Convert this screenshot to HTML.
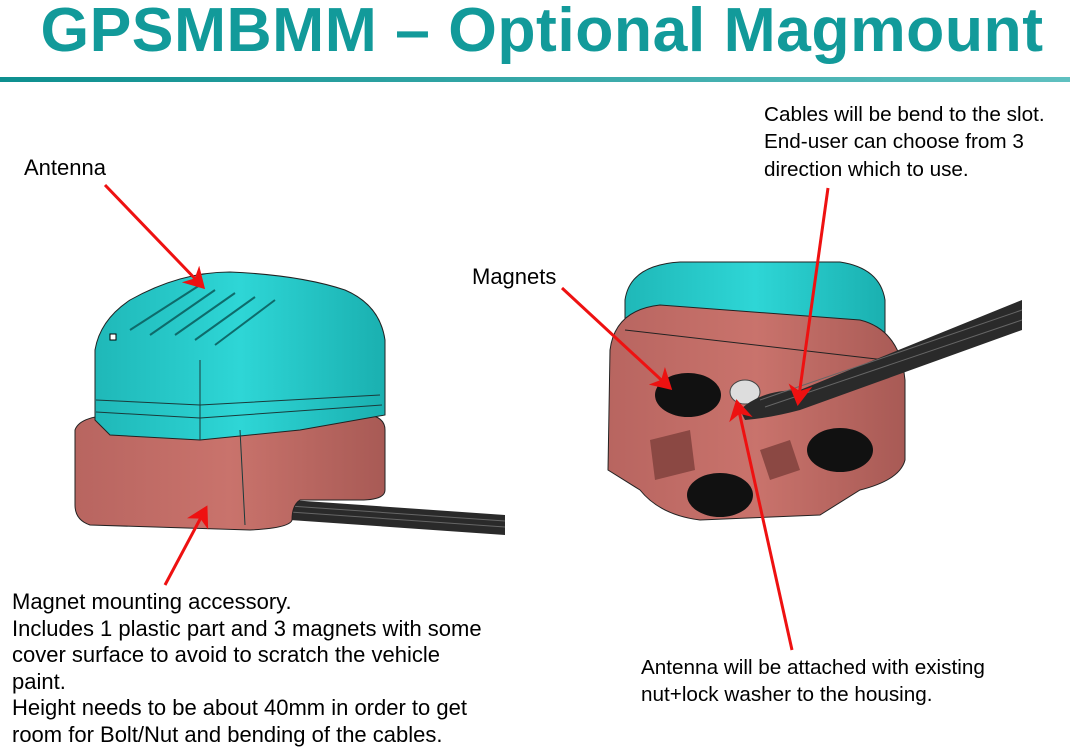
<!DOCTYPE html>
<html><head><meta charset="utf-8"><style>
body{margin:0;background:#fff;}
.wrap{position:relative;width:1070px;height:756px;overflow:hidden;font-family:"Liberation Sans",Arial,sans-serif;}
.t{position:absolute;font-size:22px;color:#000;line-height:26.6px;white-space:nowrap;}
.r{font-size:20.7px;line-height:27.3px;}
h1{position:absolute;margin:0;left:0;width:1084px;text-align:center;top:-6px;font-size:62.5px;font-weight:bold;color:#129a9a;letter-spacing:0.5px;}
</style></head><body><div class="wrap">
<h1>GPSMBMM – Optional Magmount</h1>
<svg width="1070" height="756" style="position:absolute;left:0;top:0">
<defs>
<linearGradient id="ln" x1="0" x2="1"><stop offset="0" stop-color="#0d8f8f"/><stop offset="1" stop-color="#5fc0c0"/></linearGradient>
<linearGradient id="cy" x1="0" x2="1"><stop offset="0" stop-color="#1fb8b8"/><stop offset=".5" stop-color="#2ed6d6"/><stop offset="1" stop-color="#1ab0b0"/></linearGradient>
<linearGradient id="pk" x1="0" x2="1"><stop offset="0" stop-color="#b86560"/><stop offset=".5" stop-color="#c9736c"/><stop offset="1" stop-color="#a85a55"/></linearGradient>
<marker id="ah" markerWidth="8" markerHeight="8" refX="6" refY="4" orient="auto" markerUnits="strokeWidth"><path d="M0,0 L7,4 L0,8 L2,4z" fill="#ee1111"/></marker>
</defs>
<rect x="0" y="77" width="1070" height="5" fill="url(#ln)"/>
<!-- left device -->
<path d="M290,500 L505,515 L505,535 L290,520z" fill="#2a2a2a"/>
<path d="M290,506 L505,521 M290,512 L505,527" stroke="#666" stroke-width="1"/>
<path d="M75,430 Q80,415 120,415 L370,415 Q385,418 385,430 L385,490 Q385,500 360,500 L300,500 Q292,505 292,520 Q290,528 250,530 L90,525 Q75,520 75,505z" fill="url(#pk)" stroke="#222" stroke-width="1"/>
<path d="M95,420 L95,350 Q100,320 130,300 Q180,272 230,272 Q300,275 345,290 Q380,305 385,340 L385,415 L300,430 L200,440 L110,435z" fill="url(#cy)" stroke="#222" stroke-width="1"/>
<path d="M96,400 L200,405 L380,395 M96,412 L200,418 L382,405 M200,360 L200,440 M240,430 L245,525" stroke="#1a3a3a" stroke-width="1" fill="none"/>
<path d="M130,330 L200,285 M150,335 L215,290 M175,335 L235,293 M195,340 L255,297 M215,345 L275,300" stroke="#0e6b6b" stroke-width="2"/>
<rect x="110" y="334" width="6" height="6" fill="#fff" stroke="#000"/>
<!-- right device -->
<path d="M625,300 Q630,265 680,262 L840,262 Q880,268 885,300 L885,360 L625,330z" fill="url(#cy)" stroke="#222"/>
<path d="M610,350 Q615,310 660,305 L860,320 Q900,330 905,380 L905,460 Q900,480 860,490 L820,515 L700,520 Q660,515 640,490 L608,470z" fill="url(#pk)" stroke="#222"/>
<path d="M625,330 L885,360" stroke="#222"/>
<ellipse cx="688" cy="395" rx="33" ry="22" fill="#111"/>
<ellipse cx="720" cy="495" rx="33" ry="22" fill="#111"/>
<ellipse cx="840" cy="450" rx="33" ry="22" fill="#111"/>
<ellipse cx="745" cy="392" rx="15" ry="12" fill="#ddd" stroke="#444"/>
<path d="M740,410 Q760,390 800,390 L1022,300 L1022,330 L800,410 Q770,418 745,420z" fill="#2a2a2a"/>
<path d="M760,400 L1022,310 M765,407 L1022,320" stroke="#666"/>
<path d="M650,440 L690,430 L695,470 L655,480z M760,450 L790,440 L800,470 L770,480z" fill="#8b4843"/>
<!-- arrows -->
<g stroke="#ee1111" stroke-width="3" fill="none" marker-end="url(#ah)">
<line x1="105" y1="185" x2="203" y2="287"/>
<line x1="165" y1="585" x2="206" y2="508"/>
<line x1="562" y1="288" x2="670" y2="388"/>
<line x1="828" y1="188" x2="798" y2="403"/>
<line x1="792" y1="650" x2="737" y2="402"/>
</g>
</svg>
<div class="t" style="left:24px;top:155px">Antenna</div>
<div class="t" style="left:472px;top:264px">Magnets</div>
<div class="t r" style="left:764px;top:101px">Cables will be bend to the slot.<br>End-user can choose from 3<br>direction which to use.</div>
<div class="t" style="left:12px;top:589px">Magnet mounting accessory.<br>Includes 1 plastic part and 3 magnets with some<br>cover surface to avoid to scratch the vehicle<br>paint.<br>Height needs to be about 40mm in order to get<br>room for Bolt/Nut and bending of the cables.</div>
<div class="t r" style="left:641px;top:654px">Antenna will be attached with existing<br>nut+lock washer to the housing.</div>
</div></body></html>
